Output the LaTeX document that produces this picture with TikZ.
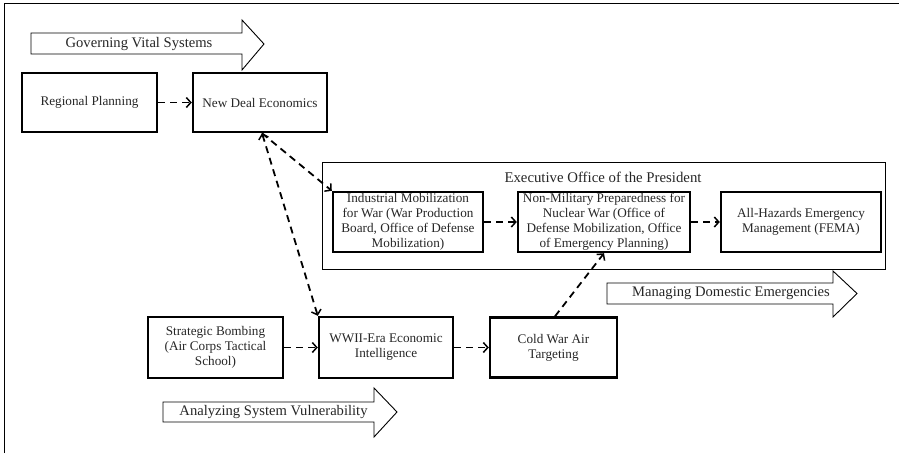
\documentclass[tikz,border=0pt]{standalone}
\usepackage{fontspec}
\setmainfont{Liberation Serif}
\usetikzlibrary{arrows.meta}
\begin{document}
\begin{tikzpicture}[x=1pt,y=-1pt,
  box/.style={draw, line width=2.4pt, align=center, inner sep=0pt, font=\fontsize{13.2}{15}\selectfont, text=black!85},
  conn/.style={line width=1.8pt, dash pattern=on 7pt off 5pt, -{Straight Barb[length=4.5pt,width=10pt,line width=1.5pt]}},
  dconn/.style={line width=1.8pt, dash pattern=on 7pt off 5pt, {Straight Barb[length=4.5pt,width=10pt,line width=1.5pt]}-{Straight Barb[length=4.5pt,width=10pt,line width=1.5pt]}},
  blockarrow/.style={draw, line width=0.9pt, fill=white},
  lbl/.style={font=\fontsize{14.6}{16}\selectfont, inner sep=0pt, text=black!85}]
\useasboundingbox (0,0) rectangle (899,453);
% frame lines
\draw[line width=1.3pt] (4.5,453) -- (4.5,3.3) -- (899,3.3);

% block arrows
\draw[blockarrow] (31,33) -- (242,33) -- (242,20) -- (264,44) -- (242,70) -- (242,54) -- (31,54) -- cycle;
\node[lbl] (gov) at (139,44) {Governing Vital Systems};

\draw[blockarrow] (607,283) -- (833,283) -- (833,271) -- (857,293.5) -- (833,317) -- (833,304) -- (607,304) -- cycle;
\node[lbl] (man) at (731,293.5) {Managing Domestic Emergencies};

\draw[blockarrow] (163,402) -- (374,402) -- (374,388) -- (397,412) -- (374,437) -- (374,422) -- (163,422) -- cycle;
\node[lbl] (ana) at (273.5,412) {Analyzing System Vulnerability};

% executive office
\node[draw, line width=1pt, minimum width=563pt, minimum height=107pt, inner sep=0pt] (eop) at (603.5,215.5) {};
\node[lbl, font=\fontsize{14.8}{16}\selectfont] (eoptitle) at (603,177) {Executive Office of the President};

% boxes
\node[box, minimum width=135pt, minimum height=59pt] (rp) at (89.5,102.5) {Regional Planning};
\node[box, minimum width=134pt, minimum height=59pt] (nde) at (260,102.5) {New Deal Economics};
\node[box, minimum width=150pt, minimum height=60pt] (ind) at (408,222) {Industrial Mobilization\\for War (War Production\\Board, Office of Defense\\Mobilization)};
\node[box, minimum width=172pt, minimum height=60pt] (nm) at (604,222) {Non-Military Preparedness for\\Nuclear War (Office of\\Defense Mobilization, Office\\of Emergency Planning)};
\node[box, minimum width=160pt, minimum height=60pt] (ah) at (801,222) {All-Hazards Emergency\\Management (FEMA)};
\node[box, minimum width=135pt, minimum height=61pt] (sb) at (215.5,347.5) {Strategic Bombing\\(Air Corps Tactical\\School)};
\node[box, minimum width=134pt, minimum height=61pt] (ww) at (386,347.5) {WWII-Era Economic\\Intelligence};
\node[box, minimum width=127pt, minimum height=60pt] (cw) at (553.5,347.5) {Cold War Air\\Targeting};

% connectors
\draw[conn] (rp.east) -- (nde.west);
\draw[conn] (ind.east) -- (nm.west);
\draw[conn] (nm.east) -- (ah.west);
\draw[conn] (sb.east) -- (ww.west);
\draw[conn] (ww.east) -- (cw.west);
\draw[conn] ([xshift=2pt]nde.south) -- (ind.north west);
\draw[dconn] ([xshift=2pt]nde.south) -- (ww.north west);
\draw[conn] ([xshift=1.5pt]cw.north) -- (nm.south);
\end{tikzpicture}
\end{document}
